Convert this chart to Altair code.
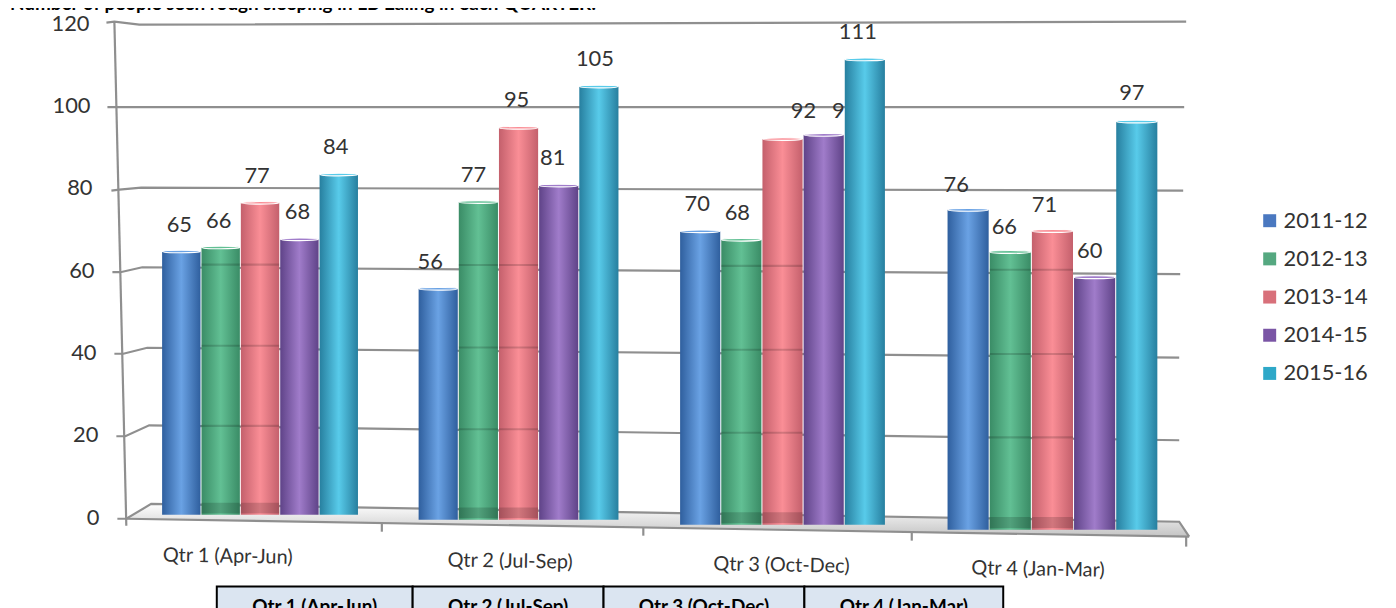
import altair as alt
import pandas as pd

# ---- values
QUARTERS = ["Qtr 1 (Apr-Jun)", "Qtr 2 (Jul-Sep)", "Qtr 3 (Oct-Dec)", "Qtr 4 (Jan-Mar)"]
SERIES = ["2011-12", "2012-13", "2013-14", "2014-15", "2015-16"]
V_2011 = [65, 56, 70, 76]
V_2012 = [66, 77, 68, 66]
V_2013 = [77, 95, 92, 71]
V_2014 = [68, 81, 93, 60]
V_2015 = [84, 105, 111, 97]
VALUES = [V_2011, V_2012, V_2013, V_2014, V_2015]
Y_TICKS = [0, 20, 40, 60, 80, 100, 120]
TITLE = "Number of people seen rough sleeping in LB Ealing in each QUARTER:"

# ---- perspective of the 3-D picture: each quarter has its own scale ranges (page px)
Q_X = [(163, 360), (421, 622), (684, 890), (953, 1164)]
Q_Y = [(516, 27), (521, 23), (526, 20), (531, 23)]
LABEL_NUDGE = [
    [(-2, -27), (-2, -27), (-3, -27), (-2, -27), (-3, -28)],
    [(-8, -27), (-5, -27), (-2, -28), (-6, -28), (-4, -28)],
    [(-3, -27), (-4, -27), (21, -28), (21, -24), (-7, -28)],
    [(-12, -25), (-6, -25), (-8, -26), (-5, -26), (-5, -29)],
]
GRID_LEVELS = [61.5, 41.5, 21.7]

CENTRE = ["#6aa2e4", "#62c094", "#fa8e96", "#a07cca", "#58cbea"]
EDGE = ["#2f5f9e", "#3a8c66", "#c4606c", "#5f4388", "#277f9f"]
LEGEND = ["#4a78c0", "#55a880", "#d8707a", "#7a55a5", "#2ea8c8"]
FONT = "Lato"
INK = "#333333"
GRID = "#8f8f8f"


def page_x(field):
    return alt.X(field, scale=alt.Scale(domain=[8, 1396], range=[0, 1388]), axis=None)


def page_y(field):
    return alt.Y(field, scale=alt.Scale(domain=[8, 608], range=[0, 600]), axis=None)


layers = []

# floor
floor = pd.DataFrame({
    "x": [127, 152, 1186, 1196],
    "back": [520, 505, 523, 538],
    "front": [520, 520.5, 537.5, 538],
})
layers.append(
    alt.Chart(floor).mark_area(
        color=alt.Gradient(gradient="linear", x1=0, x2=0, y1=0, y2=1,
                           stops=[alt.GradientStop(color="#ffffff", offset=0),
                                  alt.GradientStop(color="#c4c4c4", offset=1)])
    ).encode(x=page_x("x:Q"), y=page_y("back:Q"), y2="front:Q")
)

# walls, gridlines, ticks
frame = pd.DataFrame(
    [
        (120, 107, 21), (120, 115, 20), (120, 140, 23), (120, 1193, 20),
        (100, 108, 106), (100, 117, 106), (100, 140, 106), (100, 1191, 106),
        (80, 112, 190), (80, 120, 189), (80, 142, 187), (80, 1190, 190),
        (60, 113, 272), (60, 121, 272), (60, 143, 267), (60, 1187, 274),
        (40, 115, 354), (40, 124, 354), (40, 148, 348), (40, 1186, 358),
        (20, 117, 437), (20, 126, 437), (20, 150, 426), (20, 1186, 441),
        (0, 118, 520), (0, 127, 520), (0, 152, 505), (0, 1186, 523), (0, 1196, 538),
        (-1, 115, 20), (-1, 127, 527),
        (-2, 127, 520), (-2, 1196, 538),
        (-3, 384, 524), (-3, 384, 533),
        (-4, 647, 529), (-4, 647, 537),
        (-5, 917, 533), (-5, 917, 542),
        (-6, 1193, 538), (-6, 1193, 548),
    ],
    columns=["line", "x", "y"],
)
frame["order"] = range(len(frame))
layers.append(
    alt.Chart(frame).mark_line(color=GRID, strokeWidth=2.2).encode(
        x=page_x("x:Q"), y=page_y("y:Q"), detail="line:N", order="order:Q"
    )
)

# y tick labels
ylab = pd.DataFrame({"v": Y_TICKS, "x": [100, 99, 97, 95, 93, 91, 90], "t": [str(t) for t in Y_TICKS]})
layers.append(
    alt.Chart(ylab).mark_text(align="right", baseline="middle", font=FONT, fontSize=22, color=INK).encode(
        x=page_x("x:Q"),
        y=alt.Y("v:Q", scale=alt.Scale(domain=[0, 120], range=[511, 14]), axis=None),
        text="t:N",
    )
)

# bars, one quarter and series at a time so each can carry its own scale and gradient
for q, quarter in enumerate(QUARTERS):
    (left, right), (y0, y120) = Q_X[q], Q_Y[q]
    xs = alt.Scale(type="band", domain=SERIES, range=[left - 8, right - 8], paddingInner=0.025, paddingOuter=0)
    ys = alt.Scale(domain=[0, 120], range=[y0 - 8, y120 - 8], nice=False)
    for s, series in enumerate(SERIES):
        d = pd.DataFrame({"series": [series], "value": [VALUES[s][q]], "label": [str(VALUES[s][q])]})
        enc_x = alt.X("series:N", scale=xs, axis=None)
        enc_y = alt.Y("value:Q", scale=ys, axis=None)
        fill = alt.Gradient(
            gradient="linear", x1=0, x2=1, y1=0, y2=0,
            stops=[
                alt.GradientStop(color=EDGE[s], offset=0),
                alt.GradientStop(color=CENTRE[s], offset=0.5),
                alt.GradientStop(color=EDGE[s], offset=1),
            ],
        )
        layers.append(alt.Chart(d).mark_bar(color=fill).encode(x=enc_x, y=enc_y))
        # gridlines that show through the translucent green and red columns
        if s in (1, 2):
            bands = pd.DataFrame({
                "series": series,
                "lo": [0.4] + [g for g in GRID_LEVELS if g < VALUES[s][q]],
                "hi": [3.0] + [g + 0.5 for g in GRID_LEVELS if g < VALUES[s][q]],
            })
            layers.append(
                alt.Chart(bands).mark_bar(color="#000000", opacity=0.16).encode(
                    x=enc_x, y=alt.Y("lo:Q", scale=ys, axis=None), y2="hi:Q"
                )
            )
        # rim of the cylinder
        layers.append(
            alt.Chart(d).mark_point(
                shape="M-1,0A1,0.07 0 1,1 1,0A1,0.07 0 1,1 -1,0Z",
                filled=True, fill=CENTRE[s], stroke="#ffffff", strokeWidth=1.2,
                size=((right - left) / 5) ** 2 * 0.93, opacity=1,
            ).encode(x=enc_x, y=enc_y)
        )
        dx, dy = LABEL_NUDGE[q][s]
        layers.append(
            alt.Chart(d).mark_text(font=FONT, fontSize=22, color=INK, dx=dx, dy=dy, baseline="middle").encode(
                x=enc_x, y=enc_y, text="label:N"
            )
        )

# category labels
cats = pd.DataFrame({"q": QUARTERS, "x": [229, 513, 786, 1044], "y": [558, 563, 567, 571]})
layers.append(
    alt.Chart(cats).mark_text(font=FONT, fontSize=20, color=INK, baseline="middle", angle=1).encode(
        x=page_x("x:Q"), y=page_y("y:Q"), text="q:N"
    )
)

# legend
legend = pd.DataFrame({"series": SERIES, "colour": LEGEND})
leg_y = alt.Y("series:N", scale=alt.Scale(type="point", domain=SERIES, range=[193, 385]), axis=None)
layers.append(
    alt.Chart(legend).mark_square(size=170, opacity=1).encode(
        x=alt.value(1269), y=leg_y, color=alt.Color("colour:N", scale=None)
    )
)
layers.append(
    alt.Chart(legend).mark_text(font=FONT, fontSize=22, color=INK, align="left", baseline="middle").encode(
        x=alt.value(1283), y=leg_y, text="series:N"
    )
)

# table under the chart and the heading above it
table = pd.DataFrame({
    "q": QUARTERS,
    "x": [218, 415, 607, 809],
    "x2": [415, 607, 809, 1009],
    "y": [588] * 4,
    "y2": [640] * 4,
})
table["mid"] = (table["x"] + table["x2"]) / 2
table["ty"] = 609
layers.append(
    alt.Chart(table).mark_rect(fill="#dbe5f1", stroke="#000000", strokeWidth=2).encode(
        x=page_x("x:Q"), x2="x2:Q", y=page_y("y:Q"), y2="y2:Q"
    )
)
layers.append(
    alt.Chart(table).mark_text(font=FONT, fontSize=19, fontWeight="bold", color="#000000", baseline="middle").encode(
        x=page_x("mid:Q"), y=page_y("ty:Q"), text="q:N"
    )
)
head = pd.DataFrame({"t": [TITLE], "x": [10], "y": [8]})
layers.append(
    alt.Chart(head).mark_text(font=FONT, fontSize=19, fontWeight="bold", color="#000000", align="left",
                              baseline="alphabetic").encode(
        x=page_x("x:Q"), y=page_y("y:Q"), text="t:N"
    )
)

chart = (
    alt.layer(*layers)
    .resolve_scale(x="independent", y="independent", color="independent")
    .properties(width=1388, height=600, padding=0, autosize=alt.AutoSizeParams(type="none"), background="#ffffff")
    .configure_view(stroke=None)
)
chart.save("out.html", embed_options={"renderer": "svg", "actions": False})
